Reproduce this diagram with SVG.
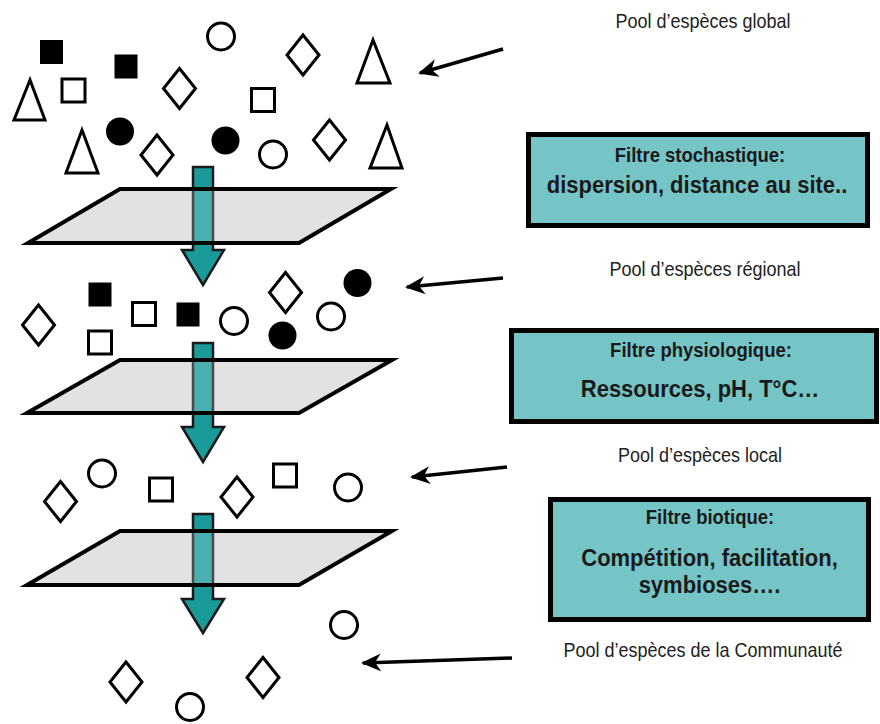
<svg xmlns="http://www.w3.org/2000/svg" xmlns:xlink="http://www.w3.org/1999/xlink" width="880" height="724" viewBox="0 0 880 724">
<style>
.o{fill:#fff;stroke:#000;stroke-width:3}
.f{fill:#000;stroke:none}
.plane{fill:#e2e2e2;stroke:none}
.edge{fill:none;stroke:#000;stroke-width:4;stroke-linejoin:miter}
.down{fill:#1b9a9a;stroke:#1a1a1a;stroke-width:2.5}
.seen{fill:#4cafaf;stroke:#4a4a4a;stroke-width:2.5}
.box{fill:#75c5c6;stroke:#000;stroke-width:5}
.ptr{stroke:#000;stroke-width:3.5;fill:none;marker-end:url(#ah)}
.lbl{font-family:"Liberation Sans",Arial,sans-serif;font-size:18px;fill:#222;text-anchor:middle}
.t1{font-family:"Liberation Sans",Arial,sans-serif;font-size:18.5px;font-weight:bold;fill:#1a1a1a;text-anchor:middle}
.t2{font-family:"Liberation Sans",Arial,sans-serif;font-size:22px;font-weight:bold;fill:#1a1a1a;text-anchor:middle}
</style>
<defs>
<path id="dia" class="o" d="M0,-20 L16,0 L0,20 L-16,0 Z"/>
<rect id="sq" class="o" x="-11.5" y="-11.5" width="23" height="23"/>
<rect id="fsq" class="f" x="-11.5" y="-12" width="23" height="24"/>
<circle id="ci" class="o" r="13.5"/>
<circle id="fci" class="f" r="14"/>
<marker id="ah" viewBox="0 0 20 20" refX="18" refY="10" markerWidth="20" markerHeight="20" markerUnits="userSpaceOnUse" orient="auto">
<path d="M20,10 L0,1 L6,10 L0,19 Z" fill="#000"/>
</marker>
</defs>

<g id="connectors">
<path class="down" d="M193,167 H213 V250 H224 L203,285 L182,250 H193 Z"/>
<path class="down" d="M193,343 H213 V427 H224 L203,462 L182,427 H193 Z"/>
<path class="down" d="M193,514 H213 V599 H224 L203,633 L182,599 H193 Z"/>
<line class="ptr" x1="503" y1="49" x2="420" y2="73"/>
<line class="ptr" x1="503" y1="278" x2="407" y2="287"/>
<line class="ptr" x1="507" y1="467" x2="412" y2="477"/>
<line class="ptr" x1="512" y1="658" x2="363" y2="663"/>
</g>

<g id="filter-plane-1">
<polygon class="plane" points="120,189 391,189 299,243 28,243"/>
<rect class="seen" x="193" y="189" width="20" height="54"/>
<polygon class="edge" points="120,189 391,189 299,243 28,243"/>
</g>
<g id="filter-plane-2">
<polygon class="plane" points="120,360 392,360 299,413 27,413"/>
<rect class="seen" x="193" y="360" width="20" height="53"/>
<polygon class="edge" points="120,360 392,360 299,413 27,413"/>
</g>
<g id="filter-plane-3">
<polygon class="plane" points="120,531 392,531 299,585 27,585"/>
<rect class="seen" x="193" y="531" width="20" height="54"/>
<polygon class="edge" points="120,531 392,531 299,585 27,585"/>
</g>

<g id="pool-global">
<use xlink:href="#fsq" x="51.5" y="52"/>
<use xlink:href="#fsq" x="126" y="66.5"/>
<use xlink:href="#sq" x="73.5" y="90.5"/>
<use xlink:href="#sq" x="263" y="100"/>
<polygon class="o" points="30,80 14,120 45,120"/>
<polygon class="o" points="373,40 357,83 390,83"/>
<polygon class="o" points="82,130 66,173 98,173"/>
<polygon class="o" points="387,125 370,168 402,168"/>
<use xlink:href="#dia" x="179.5" y="88.5"/>
<use xlink:href="#dia" x="303" y="55"/>
<use xlink:href="#dia" x="157" y="155"/>
<use xlink:href="#dia" x="329.5" y="140"/>
<use xlink:href="#ci" x="221" y="36.5"/>
<use xlink:href="#ci" x="273" y="154.5"/>
<use xlink:href="#fci" x="120" y="131.5"/>
<use xlink:href="#fci" x="225.5" y="140.5"/>
</g>

<g id="pool-regional">
<use xlink:href="#dia" x="38.5" y="325"/>
<use xlink:href="#fsq" x="100" y="294.5"/>
<use xlink:href="#sq" x="144" y="314"/>
<use xlink:href="#sq" x="100" y="342.5"/>
<use xlink:href="#fsq" x="188" y="314.5"/>
<use xlink:href="#ci" x="234" y="321"/>
<use xlink:href="#dia" x="285.5" y="292.5"/>
<use xlink:href="#fci" x="357.5" y="283"/>
<use xlink:href="#ci" x="331" y="316.5"/>
<use xlink:href="#fci" x="282.5" y="335.5"/>
</g>

<g id="pool-local">
<use xlink:href="#dia" x="60.5" y="501.5"/>
<use xlink:href="#ci" x="102" y="473.5"/>
<use xlink:href="#sq" x="161" y="489.5"/>
<use xlink:href="#dia" x="237" y="497"/>
<use xlink:href="#sq" x="285" y="475.5"/>
<use xlink:href="#ci" x="348" y="487.5"/>
</g>

<g id="pool-community">
<use xlink:href="#ci" x="344" y="625"/>
<use xlink:href="#dia" x="126" y="682"/>
<use xlink:href="#dia" x="263" y="677.5"/>
<use xlink:href="#ci" x="190" y="707"/>
</g>

<g id="label-global"><text class="lbl" transform="translate(703,28) scale(1,1.08)">Pool d’espèces global</text></g>
<g id="box-stochastique">
<rect class="box" x="528.5" y="134.5" width="339" height="91"/>
<text class="t1" transform="translate(700,162) scale(1,1.12)">Filtre stochastique:</text>
<text class="t2" transform="translate(697,193) scale(1,1.1)">dispersion, distance au site..</text>
</g>
<g id="label-regional"><text class="lbl" transform="translate(705,276) scale(1,1.08)">Pool d’espèces régional</text></g>
<g id="box-physiologique">
<rect class="box" x="511.5" y="330.5" width="365" height="91"/>
<text class="t1" transform="translate(701,357) scale(1,1.12)">Filtre physiologique:</text>
<text class="t2" transform="translate(700,397) scale(1,1.1)">Ressources, pH, T°C…</text>
</g>
<g id="label-local"><text class="lbl" transform="translate(700,462) scale(1,1.08)">Pool d’espèces local</text></g>
<g id="box-biotique">
<rect class="box" x="550.5" y="499.5" width="318" height="120"/>
<text class="t1" transform="translate(710,524) scale(1,1.12)">Filtre biotique:</text>
<text class="t2" transform="translate(709.5,566) scale(1,1.1)">Compétition, facilitation,</text>
<text class="t2" transform="translate(709.5,593) scale(1,1.1)">symbioses….</text>
</g>
<g id="label-community"><text class="lbl" transform="translate(703,657) scale(1,1.08)">Pool d’espèces de la Communauté</text></g>
</svg>
